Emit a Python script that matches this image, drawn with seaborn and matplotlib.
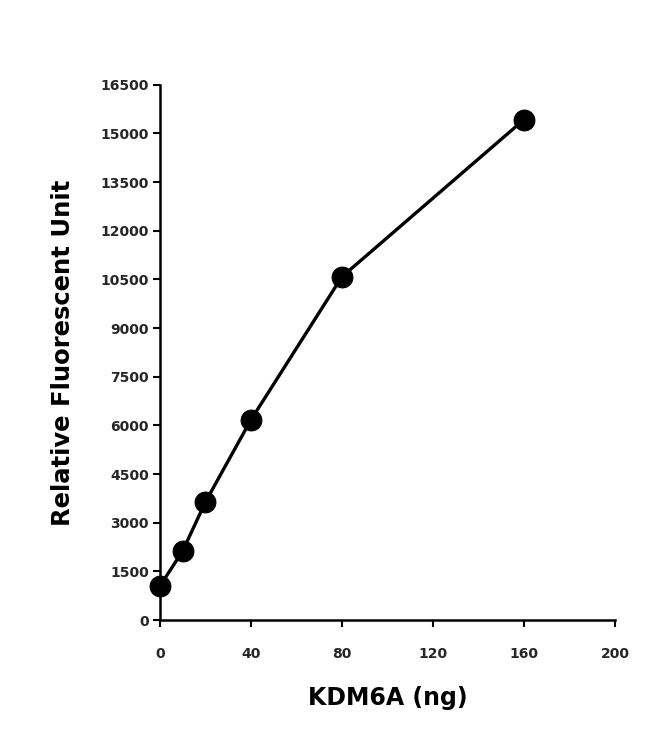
import matplotlib
matplotlib.use("Agg")
import matplotlib.pyplot as plt
import seaborn as sns
import pandas as pd

# KDM6A titration
kdm6a_ng = [0, 10, 20, 40, 80, 160]
rfu = [1050, 2130, 3640, 6170, 10580, 15420]

x_ticks = [0, 40, 80, 120, 160, 200]
y_ticks = list(range(0, 16501, 1500))

df = pd.DataFrame({"KDM6A (ng)": kdm6a_ng, "RFU": rfu})

sns.set_style("white")
plt.rcParams["font.family"] = ["DejaVu Sans"]

fig = plt.figure(figsize=(6.5, 7.49), dpi=100)
ax = fig.add_axes([0.246, 0.172, 0.70, 0.715])

sns.lineplot(data=df, x="KDM6A (ng)", y="RFU", ax=ax, color="black",
             linewidth=2.4, marker="o", markersize=15,
             markeredgecolor="black", markerfacecolor="black")

ax.set_xlim(0, 200)
ax.set_ylim(0, 16500)
ax.set_xticks(x_ticks)
ax.set_yticks(y_ticks)
ax.set_xticklabels([str(t) for t in x_ticks], fontsize=10, fontweight="bold", color="#262626")
ax.set_yticklabels([str(t) for t in y_ticks], fontsize=10, fontweight="bold", color="#262626")
ax.tick_params(axis="both", direction="out", length=5, width=1.5, color="black",
               left=True, bottom=True)
ax.tick_params(axis="y", pad=3)
ax.tick_params(axis="x", pad=14)
ax.set_xlabel("KDM6A (ng)", fontsize=17, fontweight="bold", labelpad=18, color="black")
ax.set_ylabel("Relative Fluorescent Unit", fontsize=17.5, fontweight="bold", labelpad=18,
              color="black")

sns.despine(ax=ax)
for side in ["left", "bottom"]:
    ax.spines[side].set_linewidth(1.8)
    ax.spines[side].set_color("black")
ax.margins(0)
for ln in ax.lines:
    ln.set_clip_on(False)

fig.savefig("out.png", dpi=100)
